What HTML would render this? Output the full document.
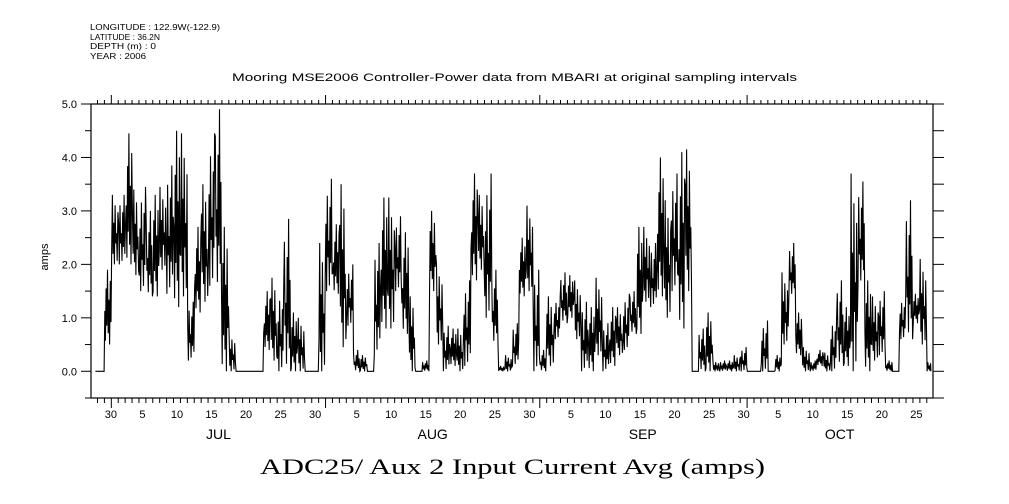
<!DOCTYPE html>
<html><head><meta charset="utf-8"><style>
html,body{margin:0;padding:0;background:#fff;}
svg{display:block;font-family:"Liberation Sans",sans-serif;}
</style></head><body>
<svg id="chart" width="1009" height="504" viewBox="0 0 1009 504" xmlns="http://www.w3.org/2000/svg">
<g font-size="8" fill="#000">
<text x="90" y="30" textLength="130" lengthAdjust="spacingAndGlyphs">LONGITUDE : 122.9W(-122.9)</text>
<text x="90" y="40" textLength="70" lengthAdjust="spacingAndGlyphs">LATITUDE : 36.2N</text>
<text x="90" y="49" textLength="66" lengthAdjust="spacingAndGlyphs">DEPTH (m) : 0</text>
<text x="90" y="59" textLength="56" lengthAdjust="spacingAndGlyphs">YEAR : 2006</text>
</g>
<text x="232" y="81" font-size="11" textLength="565" lengthAdjust="spacingAndGlyphs">Mooring MSE2006 Controller-Power data from MBARI at original sampling intervals</text>
<text x="0" y="0" font-size="11" text-anchor="middle" transform="translate(48,257) rotate(-90)">amps</text>
<text x="260" y="474" font-size="22" textLength="505" lengthAdjust="spacingAndGlyphs" font-family="Liberation Serif, serif">ADC25/ Aux 2 Input Current Avg (amps)</text>
<g id="axes"></g>
<g id="series"></g>
</svg>
<script>
// day index relative to Jul 1, 2006; hi/lo envelope per day, days -3..118
const startDay = -3;
const dayHi = [0,0,1.9,3.3,3.3,4.45,3.4,3.45,3.0,3.3,3.45,3.85,4.5,4.45,1.3,2.7,3.5,4.45,4.9,2.7,0.7,0,0,0,0,1.5,1.75,1.55,2.85,1.1,1.0,0,0,2.4,3.6,2.75,3.5,2.0,0.4,0.3,0,2.4,3.25,3.25,2.9,2.6,1.4,0,0.2,3.0,2.0,0.85,0.8,0.8,1.7,3.7,3.3,3.7,1.9,0.1,0.3,0.9,2.5,3.1,1.9,0.4,1.4,1.4,1.85,1.8,1.7,1.3,1.2,1.75,0.9,1.2,1.2,1.45,1.5,2.7,2.7,2.4,4.0,3.2,3.7,4.1,4.15,0,0.8,1.1,0.2,0.2,0.2,0.3,0.45,0,0,0.95,0,0.3,1.85,2.4,1.1,0.45,0.2,0.4,0.35,1.0,1.7,1.2,3.7,3.55,1.7,1.4,1.5,0.2,0,1.4,3.2,1.45,2.1,0.2];
const dayLo = [0,0,0.5,2.0,2.0,2.0,1.8,1.5,1.4,1.4,1.9,1.45,1.2,1.4,0.2,1.1,1.3,1.6,1.5,0,0,0,0,0,0,0.4,0.2,0,0,0,0,0,0,0,1.5,1.45,0.45,0.85,0,0,0,0.3,0.8,0.8,1.5,0.7,0,0,0,1.5,0.5,0,0.1,0,0.1,1.7,1.9,1.0,0.5,0,0,0.1,1.4,1.5,0,0,0.1,0.6,0.9,1.0,0.6,0,0,0.3,0,0.1,0.3,0.4,0.7,0.7,1.3,1.2,1.4,1.0,1.5,0.8,1.5,0,0,0,0,0,0,0,0,0,0,0,0,0,0.5,1.4,0.3,0,0,0.1,0,0,0.1,0.1,0,1.6,0,0.2,0.3,0,0,0.6,0.6,0.9,0.5,0];
const monthNames = ["JUL","AUG","SEP","OCT"];
const monthStartDays = [0,31,62,92];
const monthLabelDays = [15.5,46.5,76.9,105.4];
const monthDays = [30,31,31,30,31];
const yTicks = [0.0,1.0,2.0,3.0,4.0,5.0];
const yTickLabels = ["0.0","1.0","2.0","3.0","4.0","5.0"];

const NS = "http://www.w3.org/2000/svg";
const L = 91, R = 933, T = 104, B = 398;
const xMin = -2.94, xMax = 118.9, yMin = -0.5, yMax = 5.0;
function xs(d){ return L + (d - xMin) / (xMax - xMin) * (R - L); }
function ys(v){ return B - (v - yMin) / (yMax - yMin) * (B - T); }
function mk(tag, attrs, parent){ const e = document.createElementNS(NS, tag); for (const k in attrs) e.setAttribute(k, attrs[k]); parent.appendChild(e); return e; }

const axes = document.getElementById('axes');
const frame = mk('rect', {x:L, y:T, width:R-L, height:B-T, fill:'none', stroke:'#000', 'stroke-width':1.2}, axes);



for (let v = -0.5; v <= 5.001; v += 0.5) {
  const y = ys(v);
  const major = Math.abs(v - Math.round(v)) < 1e-6;
  const t1 = mk('line', {x1:L - (major ? 10 : 6), x2:L, y1:y, y2:y, stroke:'#000'}, axes);
  
  
  const t2 = mk('line', {x1:R, x2:R + 11, y1:y, y2:y, stroke:'#000'}, axes);
  
  
}
yTicks.forEach((v, i) => {
  const t = mk('text', {x:77, y:ys(v) + 4, 'font-size':11, 'text-anchor':'end'}, axes);
  t.textContent = yTickLabels[i];
  
  
});

for (let d = -2; d <= 118; d++) {
  const x = xs(d);
  const isMonth = monthStartDays.indexOf(d) >= 0;
  const tb = mk('line', {x1:x, x2:x, y1:B, y2:B + (isMonth ? 10 : 5), stroke:'#000'}, axes);
  
  
  const tt = mk('line', {x1:x, x2:x, y1:isMonth ? T - 9 : T - 4, y2:T, stroke:'#000'}, axes);
  
  
}
const dayLabelDays = [];
const dayLabelText = [];
dayLabelDays.push(-1); dayLabelText.push("30");
for (let m = 0; m < 4; m++) {
  const len = monthDays[m + 1];
  [5,10,15,20,25,30].forEach(dd => {
    if (dd <= len) { dayLabelDays.push(monthStartDays[m] + dd - 1); dayLabelText.push(String(dd)); }
  });
}
dayLabelDays.forEach((d, i) => {
  if (d > 118) return;
  const t = mk('text', {x:xs(d + 0.5) + (i === 0 ? 3 : 0), y:418, 'font-size':11, 'text-anchor':'middle'}, axes);
  t.textContent = dayLabelText[i];
  
  
});
monthNames.forEach((n, i) => {
  const t = mk('text', {x:xs(monthLabelDays[i]), y:439, 'font-size':14, 'text-anchor':'middle'}, axes);
  t.textContent = n;
  
  
});

// series: irregular trace inside daily hi/lo envelope (fixed shape pattern)
const shape = [1,0.15,0.6,0,0.85,0.3,0.45,0.05,0.75,0.25];
const pts = [[xs(-2.3), ys(0)]];
for (let i = 0; i < dayHi.length; i++) {
  const d = startDay + i;
  if (d < -2) continue;
  const n = shape.length;
  for (let k = 0; k < n; k++) {
    const dd = d + (k + 0.5) / n;
    if (dd < -2.3 || dd > 118.6) continue;
    const v = dayLo[i] + shape[(k + i * 3) % n] * (dayHi[i] - dayLo[i]);
    pts.push([xs(dd), ys(v)]);
  }
}
pts.push([xs(118.6), ys(0)]);
const line = mk('polyline', {points: pts.map(p => p[0].toFixed(1) + ',' + p[1].toFixed(1)).join(' '), fill:'none', stroke:'#000', 'stroke-width':1.1}, document.getElementById('series'));


</script>
</body></html>
